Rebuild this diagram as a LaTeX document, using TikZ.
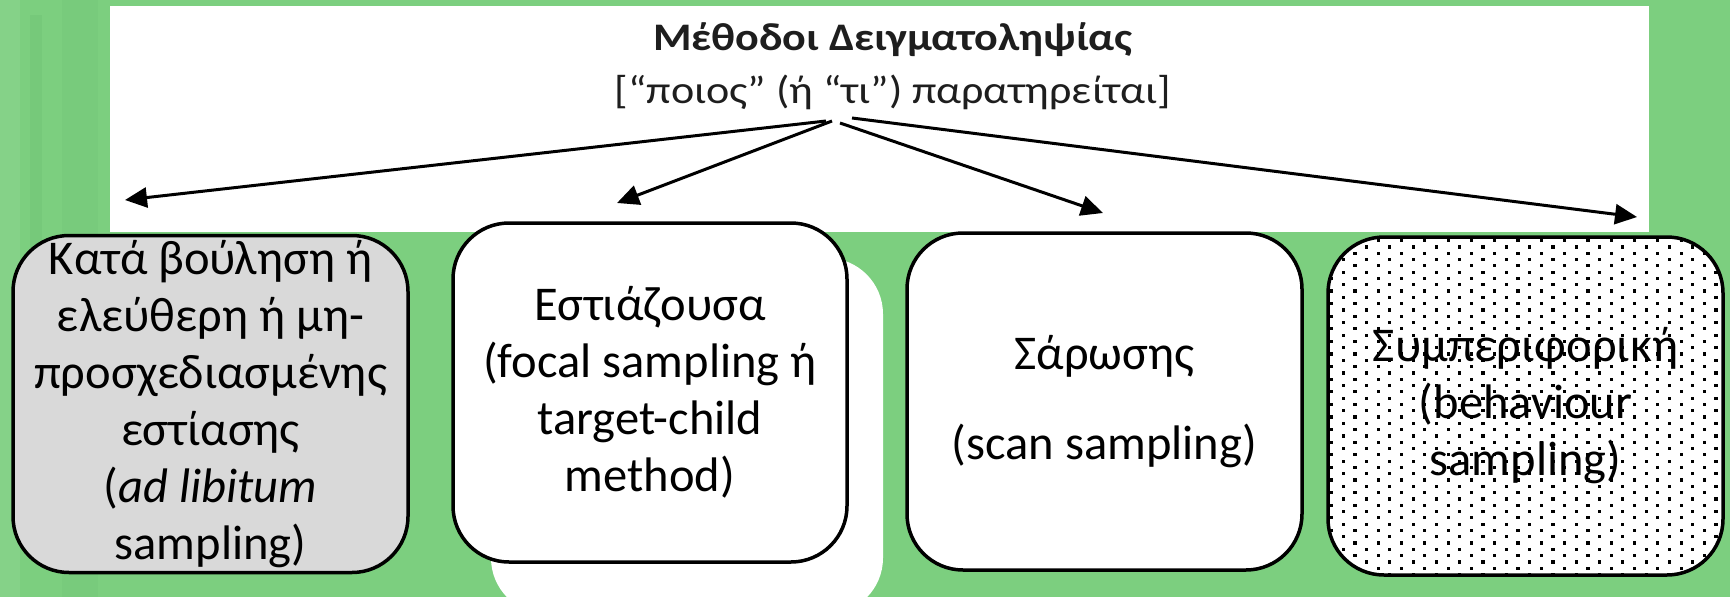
\documentclass[tikz,border=0pt]{standalone}
\usepackage{fontspec}
\setmainfont{Carlito}
\usetikzlibrary{arrows.meta}
\definecolor{bggreen}{RGB}{124,207,127}
\definecolor{darkgreen}{RGB}{70,150,80}
\definecolor{boxgray}{RGB}{217,217,217}
\definecolor{titlecol}{RGB}{30,30,30}
\begin{document}
\begin{tikzpicture}[x=1pt,y=-1pt,
  box/.style={draw=black, line width=3.5pt, rounded corners=56pt, inner sep=0pt,
    align=center, font=\fontsize{48.5}{57}\selectfont},
  conn/.style={line width=3pt, -{Triangle[length=22pt,width=20pt]}},
  heading/.style={anchor=base, text=titlecol, inner sep=0pt},
  dot/.style={fill=black, sharp corners}]
% background
\useasboundingbox (0,0) rectangle (1730,597);
\fill[bggreen] (0,0) rectangle (1730,597);
\fill[darkgreen, opacity=0.10] (30,15) rectangle (42,250);
\fill[darkgreen, opacity=0.06] (62,0) rectangle (98,597);
\fill[white, opacity=0.07] (0,0) rectangle (20,597);
% white header panel
\fill[white] (110,6) rectangle (1649,232);
% white shape behind the second box
\fill[white, rounded corners=56pt] (491,258) rectangle (883,614);
% heading
\node[heading, font=\fontsize{39}{45}\selectfont\bfseries] (title) at (893,50) {\scalebox{1.13}[1]{Μέθοδοι Δειγματοληψίας}};
\node[heading, font=\fontsize{39}{45}\selectfont] (sub) at (893,103) {\scalebox{1.13}[1]{[“ποιος” (ή “τι”) παρατηρείται]}};
% arrows
\coordinate (s1) at (826,121);
\coordinate (s2) at (832,121);
\coordinate (s3) at (840,123);
\coordinate (s4) at (852,118);
\coordinate (t1) at (125,200);
\coordinate (t2) at (617,203);
\coordinate (t3) at (1103,213);
\coordinate (t4) at (1637,217);
\draw[conn] (s1) -- (t1);
\draw[conn] (s2) -- (t2);
\draw[conn] (s3) -- (t3);
\draw[conn] (s4) -- (t4);
% boxes
\node[box, fill=boxgray, minimum width=395pt, minimum height=337pt] (b1) at (210.5,404)
  {Κατά βούληση ή\\ελεύθερη ή μη-\\προσχεδιασμένης\\εστίασης\\(\textit{ad libitum}\\sampling)};
\node[box, fill=white, minimum width=394pt, minimum height=339pt] (b2) at (650,392.5)
  {Εστιάζουσα\\(focal sampling ή\\target-child\\method)};
\node[box, fill=white, minimum width=395pt, minimum height=337pt] (b3) at (1104.5,401.5)
  {Σάρωσης\\[33pt](scan sampling)};
% dotted fill of the fourth box
\fill[white, rounded corners=56pt] (1328,237) rectangle (1723,575);
\begin{scope}
  \clip[rounded corners=56pt] (1328,237) rectangle (1723,575);
  \foreach \i in {0,...,54}{
    \pgfmathsetmacro{\yy}{239+\i*6.3}
    \pgfmathsetmacro{\xo}{1330+mod(\i,2)*11.65}
    \foreach \j in {0,...,17}{
      \path[dot] ({\xo+\j*23.3},\yy) rectangle ++(3.2,3.2);
    }
  }
\end{scope}
\node[box, minimum width=395pt, minimum height=338pt] (b4) at (1525.5,406)
  {Συμπεριφορική\\(behaviour\\sampling)};
\end{tikzpicture}
\end{document}
